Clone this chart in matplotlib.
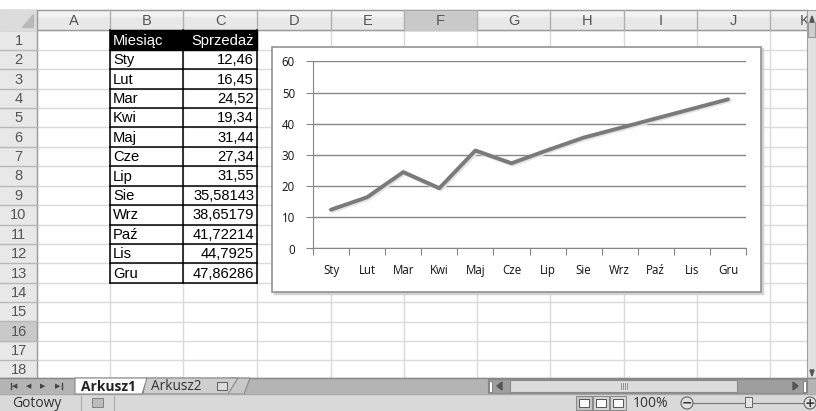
import matplotlib
matplotlib.use("Agg")
import matplotlib.pyplot as plt
from matplotlib.patches import Rectangle, Polygon

# ---------------- data ----------------
months = ["Sty", "Lut", "Mar", "Kwi", "Maj", "Cze", "Lip", "Sie", "Wrz", "Paź", "Lis", "Gru"]
sales = [12.46, 16.45, 24.52, 19.34, 31.44, 27.34, 31.55, 35.58143, 38.65179, 41.72214, 44.7925, 47.86286]
sales_text = ["12,46", "16,45", "24,52", "19,34", "31,44", "27,34", "31,55",
              "35,58143", "38,65179", "41,72214", "44,7925", "47,86286"]
header_labels = ["Miesiąc", "Sprzedaż"]
col_letters = ["A", "B", "C", "D", "E", "F", "G", "H", "I", "J", "K"]
y_ticks = [0, 10, 20, 30, 40, 50, 60]

W, H = 816, 411
fig = plt.figure(figsize=(W / 100, H / 100), dpi=100)
bg = fig.add_axes([0, 0, 1, 1])
bg.set_xlim(0, W)
bg.set_ylim(H, 0)
bg.axis("off")

CELL_FONT = ["Liberation Sans", "DejaVu Sans"]
UI_FONT = ["Open Sans", "DejaVu Sans"]

# column boundaries
col_x = [37, 110, 183, 257, 331, 404, 477, 550, 624, 697, 770, 844]
row_top = 30.5
row_h = 19.4
sheet_bottom = 378
grid_right = 807

# white sheet
bg.add_patch(Rectangle((0, 0), W, H, color="white", zorder=0))

# gridlines
for x in col_x[1:]:
    if x < grid_right:
        bg.plot([x, x], [row_top, sheet_bottom], color="#dadada", lw=1, zorder=1)
for i in range(19):
    y = row_top + i * row_h
    if y < sheet_bottom:
        bg.plot([col_x[0], grid_right], [y, y], color="#dadada", lw=1, zorder=1)

# column headers
hdr_top, hdr_bot = 10, row_top
bg.add_patch(Rectangle((0, hdr_top), grid_right, hdr_bot - hdr_top, color="#e8e8e8", zorder=2))
bg.add_patch(Rectangle((0, hdr_top), grid_right, 6, color="#f3f3f3", zorder=2))
bg.plot([0, grid_right], [hdr_top, hdr_top], color="#9a9a9a", lw=1, zorder=3)
bg.plot([0, grid_right], [hdr_bot, hdr_bot], color="#9a9a9a", lw=1, zorder=3)
# corner
bg.add_patch(Rectangle((0, hdr_top), col_x[0], hdr_bot - hdr_top, color="#dcdcdc", zorder=3))
bg.add_patch(Polygon([[col_x[0] - 4, hdr_top + 4], [col_x[0] - 4, hdr_bot - 3],
                      [col_x[0] - 15, hdr_bot - 3]], closed=True, color="#b8b8b8", zorder=4))
for i, letter in enumerate(col_letters):
    x0, x1 = col_x[i], min(col_x[i + 1], grid_right)
    if letter == "F":
        bg.add_patch(Rectangle((x0, hdr_top + 1), x1 - x0, hdr_bot - hdr_top - 1,
                               color="#c9c9c9", zorder=3))
    bg.plot([x1, x1], [hdr_top, hdr_bot], color="#b0b0b0", lw=1, zorder=4)
    bg.text((x0 + x1) / 2 if letter != "K" else x0 + 35, (hdr_top + hdr_bot) / 2 + 1, letter,
            ha="center", va="center", fontsize=10.5, color="#555555",
            family=CELL_FONT, zorder=5)

# row headers
bg.add_patch(Rectangle((0, hdr_bot), col_x[0], sheet_bottom - hdr_bot, color="#e8e8e8", zorder=2))
bg.plot([col_x[0], col_x[0]], [hdr_top, sheet_bottom], color="#9a9a9a", lw=1, zorder=4)
for r in range(18):
    y0 = row_top + r * row_h
    y1 = min(y0 + row_h, sheet_bottom)
    if r + 1 == 16:
        bg.add_patch(Rectangle((0, y0), col_x[0], row_h, color="#c9c9c9", zorder=3))
    bg.plot([0, col_x[0]], [y1, y1], color="#b8b8b8", lw=1, zorder=4)
    bg.text(col_x[0] / 2, y0 + row_h / 2 + 0.5, str(r + 1), ha="center", va="center",
            fontsize=10.5, color="#555555", family=CELL_FONT, zorder=5)

# data table
bx0, bx1, cx1 = col_x[1], col_x[2], col_x[3]
bg.add_patch(Rectangle((bx0, row_top), cx1 - bx0, row_h, color="black", zorder=5))
bg.text(bx0 + 3, row_top + row_h / 2 + 0.5, header_labels[0], ha="left", va="center",
        fontsize=10.6, color="white", family=CELL_FONT, zorder=6)
bg.text(cx1 - 3, row_top + row_h / 2 + 0.5, header_labels[1], ha="right", va="center",
        fontsize=10.6, color="white", family=CELL_FONT, zorder=6)
for i, (m, s) in enumerate(zip(months, sales_text)):
    y0 = row_top + (i + 1) * row_h
    bg.text(bx0 + 3, y0 + row_h / 2 + 0.5, m, ha="left", va="center",
            fontsize=10.6, color="black", family=CELL_FONT, zorder=6)
    bg.text(cx1 - 3, y0 + row_h / 2 + 0.5, s, ha="right", va="center",
            fontsize=10.6, color="black", family=CELL_FONT, zorder=6)
tab_bot = row_top + 13 * row_h
for y in [row_top + k * row_h for k in range(1, 14)]:
    bg.plot([bx0, cx1], [y, y], color="black", lw=1.1, zorder=6)
for x in [bx0, bx1, cx1]:
    bg.plot([x, x], [row_top, tab_bot], color="black", lw=1.1, zorder=6)

# chart frame
cl, ct, cr, cb = 272, 47, 761, 292
bg.add_patch(Rectangle((cl + 1.5, ct + 1.5), cr - cl, cb - ct, color="#d2d2d2", zorder=7))
bg.add_patch(Rectangle((cl, ct), cr - cl, cb - ct, facecolor="white",
                       edgecolor="#8a8a8a", lw=1.1, zorder=8))

# vertical scrollbar
bg.add_patch(Rectangle((grid_right, hdr_top), W - grid_right, sheet_bottom - hdr_top,
                       facecolor="#e2e2e2", edgecolor="#a0a0a0", lw=0.8, zorder=9))
bg.add_patch(Rectangle((grid_right + 1, hdr_top + 12), W - grid_right - 2, 15,
                       facecolor="#cfcfcf", edgecolor="#9a9a9a", lw=0.8, zorder=10))
bg.add_patch(Polygon([[grid_right + 3, 22], [W - 2, 22], [(grid_right + W) / 2 + 0.5, 16]],
                     color="#555555", zorder=11))
bg.add_patch(Polygon([[grid_right + 3, 370], [W - 2, 370], [(grid_right + W) / 2 + 0.5, 376]],
                     color="#555555", zorder=11))

# tab bar
bg.add_patch(Rectangle((0, sheet_bottom), W, 16, color="#b4b4b4", zorder=9))
bg.plot([0, W], [sheet_bottom, sheet_bottom], color="#888888", lw=1, zorder=10)
for x, sym in zip([15, 29, 43, 58], ["◀", "◀", "▶", "▶"]):
    bg.text(x, sheet_bottom + 8, sym, ha="center", va="center", fontsize=5,
            color="#444444", family=["DejaVu Sans"], zorder=11)
bg.plot([11, 11], [sheet_bottom + 5, sheet_bottom + 11], color="#444444", lw=1, zorder=11)
bg.plot([62, 62], [sheet_bottom + 5, sheet_bottom + 11], color="#444444", lw=1, zorder=11)
bg.add_patch(Polygon([[232, sheet_bottom], [250, sheet_bottom], [244, sheet_bottom + 16],
                      [202, sheet_bottom + 16]], facecolor="#c8c8c8", edgecolor="#888888",
                     lw=0.8, zorder=10))
bg.add_patch(Polygon([[146, sheet_bottom], [238, sheet_bottom], [228, sheet_bottom + 16],
                      [143, sheet_bottom + 16]], facecolor="#cfcfcf", edgecolor="#888888",
                     lw=0.8, zorder=10))
bg.add_patch(Polygon([[75, sheet_bottom], [147, sheet_bottom], [142, sheet_bottom + 16],
                      [75, sheet_bottom + 16]], facecolor="white", edgecolor="#888888",
                     lw=0.8, zorder=11))
bg.text(81, sheet_bottom + 8.5, "Arkusz1", ha="left", va="center", fontsize=9.9,
        fontweight="bold", color="#222222", family=UI_FONT, zorder=12)
bg.text(151, sheet_bottom + 8.5, "Arkusz2", ha="left", va="center", fontsize=9.8,
        color="#333333", family=UI_FONT, zorder=12)
bg.add_patch(Rectangle((217, sheet_bottom + 4), 10, 8, facecolor="#dddddd",
                       edgecolor="#666666", lw=0.8, zorder=12))
# horizontal scrollbar
bg.add_patch(Rectangle((488, sheet_bottom + 1), 319, 14, facecolor="#9e9e9e", edgecolor="#888888",
                       lw=0.8, zorder=10))
bg.add_patch(Rectangle((510, sheet_bottom + 2), 227, 12, facecolor="#dcdcdc", edgecolor="#8a8a8a",
                       lw=0.8, zorder=11))
for k in range(4):
    bg.plot([621 + 2 * k, 621 + 2 * k], [sheet_bottom + 5, sheet_bottom + 11],
            color="#888888", lw=0.6, zorder=12)
bg.add_patch(Polygon([[497, sheet_bottom + 8], [502, sheet_bottom + 4], [502, sheet_bottom + 12]],
                     color="#555555", zorder=12))
bg.add_patch(Polygon([[798, sheet_bottom + 8], [793, sheet_bottom + 4], [793, sheet_bottom + 12]],
                     color="#555555", zorder=12))
bg.add_patch(Rectangle((489, sheet_bottom + 3), 3, 11, facecolor="white", edgecolor="#777777",
                       lw=0.6, zorder=12))
bg.add_patch(Rectangle((803, sheet_bottom + 3), 3, 11, facecolor="white", edgecolor="#777777",
                       lw=0.6, zorder=12))

# status bar
sb = sheet_bottom + 16
bg.add_patch(Rectangle((0, sb), W, H - sb, color="#d9d9d9", zorder=9))
bg.plot([0, W], [sb, sb], color="#a8a8a8", lw=1, zorder=10)
bg.text(12, sb + 9.5, "Gotowy", ha="left", va="center", fontsize=10, color="#333333",
        family=UI_FONT, zorder=11)
bg.plot([81, 81], [sb + 2, H], color="#aaaaaa", lw=0.8, zorder=10)
bg.plot([114, 114], [sb + 2, H], color="#aaaaaa", lw=0.8, zorder=10)
bg.add_patch(Rectangle((92, sb + 4), 11, 9, facecolor="#bbbbbb", edgecolor="#777777",
                       lw=0.6, zorder=11))
for i, x in enumerate([584, 601, 618]):
    bg.add_patch(Rectangle((x - 8, sb + 2), 16, 14, facecolor="#c4c4c4" if i == 0 else "#d4d4d4",
                           edgecolor="#888888", lw=0.7, zorder=11))
    bg.add_patch(Rectangle((x - 5, sb + 5), 10, 8, facecolor="white",
                           edgecolor="#555555", lw=0.7, zorder=12))
bg.text(651, sb + 9.5, "100%", ha="center", va="center", fontsize=10, color="#333333",
        family=UI_FONT, zorder=11)
bg.plot([688, 806], [sb + 9, sb + 9], color="#777777", lw=0.8, zorder=11)
bg.add_patch(Rectangle((745, sb + 3), 7, 10, facecolor="#e6e6e6", edgecolor="#666666",
                       lw=0.7, zorder=12))
for x, sym in [(687, "−"), (810, "+")]:
    bg.add_patch(plt.Circle((x, sb + 9), 6, facecolor="#e0e0e0", edgecolor="#666666",
                            lw=0.8, zorder=12))
    bg.text(x, sb + 9, sym, ha="center", va="center", fontsize=9, fontweight="bold",
            color="#333333", family=["DejaVu Sans"], zorder=13)

# ---------------- line chart ----------------
px0, px1 = 313, 746
py_top, py_bot = 61.5, 248.5
ax = fig.add_axes([px0 / W, 1 - py_bot / H, (px1 - px0) / W, (py_bot - py_top) / H])
ax.set_zorder(20)
ax.patch.set_alpha(0)
x = list(range(len(months)))
ax.set_xlim(-0.5, len(months) - 0.5)
ax.set_ylim(0, 60)
ax.set_yticks(y_ticks)
ax.yaxis.grid(True, color="#868686", lw=1)
ax.set_axisbelow(True)
ax.plot([xi + 0.04 for xi in x], [v - 0.3 for v in sales], color="#e2e2e2", lw=3.4,
        solid_capstyle="round", zorder=2)
ax.plot(x, sales, color="#7a7a7a", lw=2.8, solid_capstyle="round", zorder=3)
for s in ["top", "right"]:
    ax.spines[s].set_visible(False)
ax.spines["left"].set_color("#868686")
ax.spines["bottom"].set_color("#868686")
ax.set_xticks([i - 0.5 for i in range(len(months) + 1)], minor=False)
ax.set_xticklabels([])
ax.set_xticks(x, minor=True)
ax.set_xticklabels(months, minor=True)
ax.tick_params(axis="x", which="major", length=5, color="#868686", direction="out")
ax.tick_params(axis="x", which="minor", length=0, pad=11, labelsize=8.3, labelcolor="#111111")
ax.tick_params(axis="y", length=5, color="#868686", pad=8, labelsize=8.3, labelcolor="#111111")
for lab in ax.get_xticklabels(minor=True) + ax.get_yticklabels():
    lab.set_family(UI_FONT)

fig.savefig("out.png", dpi=100)
